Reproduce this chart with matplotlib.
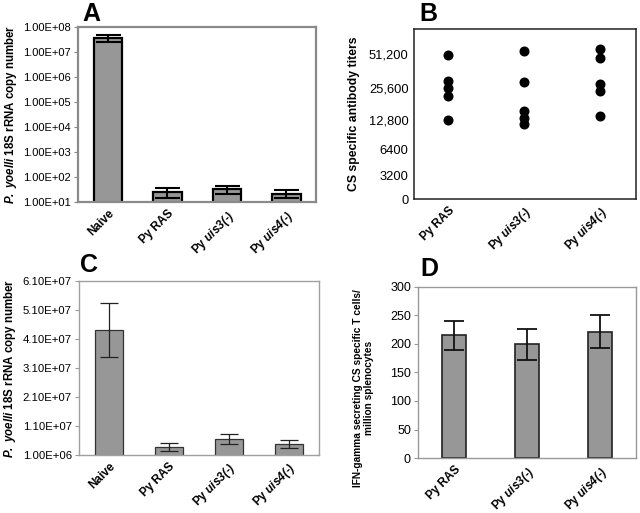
import numpy as np
import matplotlib
matplotlib.use('Agg')
import matplotlib.pyplot as plt

plt.rcParams['font.family'] = 'Liberation Sans'
plt.rcParams['mathtext.fontset'] = 'custom'
plt.rcParams['mathtext.rm'] = 'Liberation Sans:bold'
plt.rcParams['mathtext.bfit'] = 'Liberation Sans:bold:italic'

# Panel A - parasite load, log axis
groups_a = ['Naive', 'Py RAS', 'Py uis3(-)', 'Py uis4(-)']
copies_a = [3.6e7, 25, 33, 22]
err_a = [1.1e7, 11, 11, 7.5]

# Panel B - antibody titers per mouse
groups_b = ['Py RAS', 'Py uis3(-)', 'Py uis4(-)']
titers_ras = [50200, 29600, 25600, 21600, 12800]
titers_uis3 = [53600, 29000, 15600, 13500, 11600]
titers_uis4 = [55700, 47300, 28200, 24100, 14000]
titer_ticks = [0, 3200, 6400, 12800, 25600, 51200]
titer_labels = ['0', '3200', '6400', '12,800', '25,600', '51,200']

# Panel C - parasite load, linear axis
copies_c = [4.4e7, 3.7e6, 6.6e6, 4.8e6]
err_c = [0.93e7, 1.4e6, 1.65e6, 1.4e6]
ticks_c = [1.0e6, 1.1e7, 2.1e7, 3.1e7, 4.1e7, 5.1e7, 6.1e7]

# Panel D - IFN-gamma ELISPOT
ifn_d = [215, 199, 221]
err_d = [25, 27, 29]


def pretty(name):
    # italic strain name, keep the plain hyphen
    parts = name.split(' ')
    if len(parts) > 1 and parts[1].startswith('uis'):
        strain = parts[1].replace('(-)', '')
        return parts[0] + r' $\mathbfit{' + strain + '(}$-$\mathbfit{)}$'
    return name


def sci(v):
    return '%.2E' % v


ylab_copies = r'$\mathbfit{P.}$ $\mathbfit{yoelli}$ 18S rRNA copy number'
bar_grey = '#979797'
fig = plt.figure(figsize=(6.4, 5.13), dpi=100)

# ---- A ----
axA = fig.add_axes([0.122, 0.606, 0.372, 0.341])
xa = np.arange(len(groups_a))
axA.bar(xa, copies_a, width=0.48, color=bar_grey, edgecolor='black', linewidth=1.6)
axA.errorbar(xa, copies_a, yerr=err_a, fmt='none', ecolor='black', elinewidth=1.5,
             capsize=9, capthick=1.5)
axA.set_yscale('log')
axA.set_ylim(10, 1e8)
axA.set_xlim(-0.5, 3.5)
axA.set_yticks([10 ** k for k in range(1, 9)])
axA.set_yticklabels([sci(10 ** k) for k in range(1, 9)], fontsize=8)
axA.minorticks_off()
axA.set_xticks(xa)
axA.set_xticklabels([pretty(g) for g in groups_a], rotation=45, ha='right',
                    rotation_mode='anchor', fontsize=8.5, fontweight='bold')
axA.tick_params(axis='x', length=0, pad=4)
axA.tick_params(axis='y', length=3, width=0.8, color='#888888', pad=2)
axA.set_ylabel(ylab_copies, fontsize=8.3, fontweight='bold', labelpad=3)
for sp in axA.spines.values():
    sp.set_color('#8a8a8a')
    sp.set_linewidth(1.6)

# ---- B ----
log2_pts = np.log2([1600, 3200, 6400, 12800, 25600, 51200, 102400])
pos_pts = np.array([0, 23.3, 50, 79, 110.7, 145.7, 180.7])


def fwd(v):
    return np.interp(np.log2(np.clip(v, 1600, None)), log2_pts, pos_pts)


def inv(p):
    return 2 ** np.interp(p, pos_pts, log2_pts)


axB = fig.add_axes([0.647, 0.612, 0.347, 0.331])
xb = [1, 2, 3]
for x, vals in zip(xb, [titers_ras, titers_uis3, titers_uis4]):
    axB.plot([x] * len(vals), vals, 'o', color='black', markersize=6.2, linestyle='none')
axB.set_yscale('function', functions=(fwd, inv))
axB.set_ylim(0, 82900)
axB.set_xlim(0.55, 3.47)
axB.set_yticks(titer_ticks)
axB.set_yticklabels(titer_labels, fontsize=9.3)
axB.minorticks_off()
axB.set_xticks(xb)
axB.set_xticklabels([pretty(g) for g in groups_b], rotation=45, ha='right',
                    rotation_mode='anchor', fontsize=8.5, fontweight='bold')
axB.tick_params(length=0, pad=4)
axB.set_ylabel('CS specific antibody titers', fontsize=8.8, fontweight='bold', labelpad=6)
for sp in axB.spines.values():
    sp.set_color('#222222')
    sp.set_linewidth(1.1)

# ---- C ----
axC = fig.add_axes([0.123, 0.113, 0.375, 0.339])
axC.bar(xa, copies_c, width=0.46, color=bar_grey, edgecolor='#333333', linewidth=0.9)
axC.errorbar(xa, copies_c, yerr=err_c, fmt='none', ecolor='#222222', elinewidth=0.9,
             capsize=6.5, capthick=0.9)
axC.set_ylim(1.0e6, 6.1e7)
axC.set_xlim(-0.5, 3.5)
axC.set_yticks(ticks_c)
axC.set_yticklabels([sci(t) for t in ticks_c], fontsize=8.2)
axC.set_xticks(xa)
axC.set_xticklabels([pretty(g) for g in groups_a], rotation=45, ha='right',
                    rotation_mode='anchor', fontsize=8.5, fontweight='bold')
axC.tick_params(axis='x', length=0, pad=4)
axC.tick_params(axis='y', length=3, width=0.8, color='#999999', pad=2)
axC.set_ylabel(ylab_copies, fontsize=8.3, fontweight='bold', labelpad=3)
for sp in axC.spines.values():
    sp.set_color('#a0a0a0')
    sp.set_linewidth(1.0)

# ---- D ----
axD = fig.add_axes([0.653, 0.107, 0.341, 0.334])
xd = np.arange(len(groups_b))
axD.bar(xd, ifn_d, width=0.33, color=bar_grey, edgecolor='#222222', linewidth=1.2)
axD.errorbar(xd, ifn_d, yerr=err_d, fmt='none', ecolor='#111111', elinewidth=1.3,
             capsize=7.2, capthick=1.3)
axD.set_ylim(0, 300)
axD.set_xlim(-0.5, 2.5)
axD.set_yticks(range(0, 301, 50))
axD.set_yticklabels([str(t) for t in range(0, 301, 50)], fontsize=9)
axD.set_xticks(xd)
axD.set_xticklabels([pretty(g) for g in groups_b], rotation=45, ha='right',
                    rotation_mode='anchor', fontsize=8.5, fontweight='bold')
axD.tick_params(axis='x', length=0, pad=4)
axD.tick_params(axis='y', length=3, width=0.8, color='#999999', pad=2)
axD.set_ylabel('IFN-gamma secreting CS specific T cells/\nmillion splenocytes',
               fontsize=7.3, fontweight='bold', linespacing=1.1)
axD.yaxis.set_label_coords(-0.2, 0.41)
for sp in axD.spines.values():
    sp.set_color('#999999')
    sp.set_linewidth(1.0)

# panel letters
for lab, x, y in [('A', 82, 21), ('B', 419, 21), ('C', 80, 272), ('D', 420, 276)]:
    fig.text(x / 640, 1 - y / 513, lab, fontsize=18, fontweight='bold', va='baseline')

fig.savefig('out.png', dpi=100)
